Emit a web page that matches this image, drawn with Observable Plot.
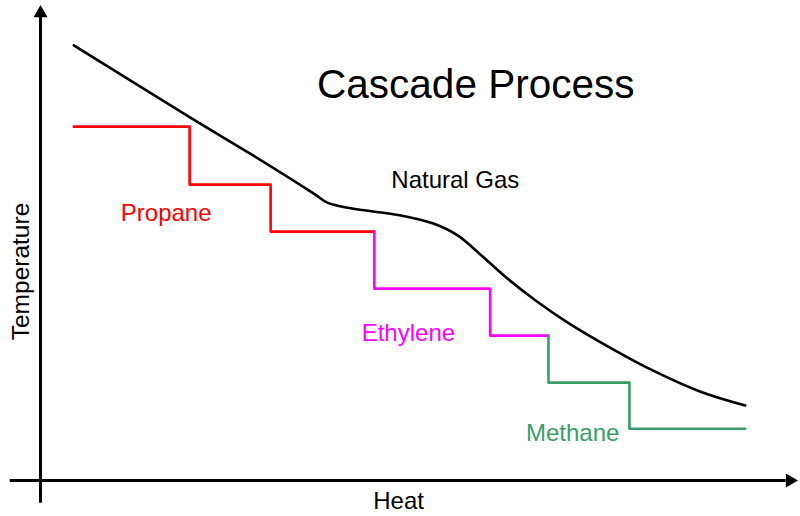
<!DOCTYPE html>
<html>
<head>
<meta charset="utf-8">
<script src="https://cdn.jsdelivr.net/npm/d3@7"></script>
<script src="https://cdn.jsdelivr.net/npm/@observablehq/plot@0.6"></script>
<style>
  html, body { margin: 0; padding: 0; background: #fff; }
  svg { display: block; }
</style>
</head>
<body>
<div id="chart"></div>
<script>
// Natural gas cooling curve (heat vs temperature, arbitrary units 0–100)
const gasHeat = [4.4, 19.8, 27.7, 36.1, 37.9, 41.0, 47.6, 51.9, 55.1, 58.1, 61.4, 65.4, 69.6, 74.0, 80.6, 87.2, 93.1];
const gasTemp = [91.6, 76.4, 68.8, 60.4, 58.5, 57.3, 55.8, 54.1, 51.6, 47.6, 42.9, 37.9, 33.3, 29.1, 23.4, 18.7, 15.8];

// Refrigerant stage steps (step-after)
const propaneHeat = [4.4, 19.7, 30.4, 44.1];
const propaneTemp = [74.5, 62.3, 52.4, 52.4];
const ethyleneHeat = [44.1, 44.1, 59.4, 67.1];
const ethyleneTemp = [52.4, 40.4, 30.5, 30.5];
const methaneHeat = [67.1, 67.1, 77.8, 93.1];
const methaneTemp = [30.5, 20.6, 10.9, 10.9];

// Labels
const labelText = ["Natural Gas", "Propane", "Ethylene", "Methane"];
const labelHeat = [54.8, 16.6, 48.6, 70.3];
const labelTemp = [63.2, 56.2, 30.9, 10.0];
const labelColor = ["#000000", "#ff0000", "#ff00ff", "#3a9d68"];
const title = "Cascade Process";
const xLabel = "Heat";
const yLabel = "Temperature";

const toRows = (xs, ys) => xs.map((x, i) => ({x, y: ys[i]}));
const gas = toRows(gasHeat, gasTemp);
const propane = toRows(propaneHeat, propaneTemp);
const ethylene = toRows(ethyleneHeat, ethyleneTemp);
const methane = toRows(methaneHeat, methaneTemp);
const labels = labelText.map((t, i) => ({t, x: labelHeat[i], y: labelTemp[i], c: labelColor[i]}));

const chart = Plot.plot({
  width: 800,
  height: 516,
  marginLeft: 40,
  marginRight: 3,
  marginTop: 5,
  marginBottom: 36,
  x: {domain: [0, 100], axis: null},
  y: {domain: [0, 100], axis: null},
  style: {fontFamily: "'Liberation Sans', Arial, sans-serif", background: "#fff"},
  marks: [
    // axes
    Plot.ruleX([0], {y1: -4.8, y2: 98.0, stroke: "#000", strokeWidth: 3}),
    Plot.ruleY([0], {x1: -4.0, x2: 98.5, stroke: "#000", strokeWidth: 3}),
    Plot.dot([{x: 0, y: 98.4}], {x: "x", y: "y", symbol: "triangle", r: 5.2, fill: "#000", stroke: "none"}),
    Plot.dot([{x: 99.0, y: 0}], {x: "x", y: "y", symbol: "triangle", r: 5.2, fill: "#000", stroke: "none", rotate: 90}),
    // curves
    Plot.line(gas, {x: "x", y: "y", curve: "catmull-rom", stroke: "#000", strokeWidth: 2.6}),
    Plot.line(propane, {x: "x", y: "y", curve: "step-after", stroke: "#ff0000", strokeWidth: 2.6}),
    Plot.line(ethylene, {x: "x", y: "y", curve: "step-after", stroke: "#ff00ff", strokeWidth: 2.6}),
    Plot.line(methane, {x: "x", y: "y", curve: "step-after", stroke: "#3a9d68", strokeWidth: 2.6}),
    // labels
    Plot.text(labels, {x: "x", y: "y", text: "t", fill: "c", fontSize: 24}),
    Plot.text([title], {x: 57.5, y: 83.2, text: d => d, fontSize: 40.5, fill: "#000"}),
    Plot.text([xLabel], {x: 47.3, y: -4.4, text: d => d, fontSize: 24, fill: "#000"}),
    Plot.text([yLabel], {x: -2.5, y: 44.0, text: d => d, fontSize: 24.5, fill: "#000", rotate: -90})
  ]
});
document.getElementById("chart").appendChild(chart);
</script>
</body>
</html>
